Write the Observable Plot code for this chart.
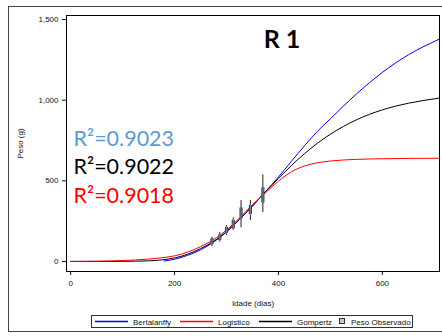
<!DOCTYPE html>
<html>
<head>
<meta charset="utf-8">
<script src="https://cdn.jsdelivr.net/npm/d3@7"></script>
<script src="https://cdn.jsdelivr.net/npm/@observablehq/plot@0.6"></script>
<style>
  html, body { margin: 0; padding: 0; background: #fff; overflow: hidden; }
  #wrap { position: relative; width: 442px; height: 336px; }
  #outer { position: absolute; left: 8px; top: 6px; width: 440px; height: 326px; border: 1.5px solid #444; box-sizing: border-box; pointer-events: none; }
  #legendSvg { position: absolute; left: 91px; top: 315px; }
</style>
</head>
<body>
<div id="wrap"></div>
<script>
// Model curves
const days = [0, 50, 100, 150, 175, 200, 225, 250, 275, 300, 325, 350, 375, 400, 425, 450, 475, 500, 550, 600, 650, 710];
const gompertz = [0, 0, 1, 4, 10, 22, 45, 80, 124, 185, 262, 345, 431, 515, 595, 668, 733, 789, 878, 940, 981, 1013];
const logistico = [1, 2, 6, 15, 23, 35, 58, 92, 135, 195, 270, 352, 426, 498, 556, 592, 612, 623, 633, 637, 639, 640];
const bertDays = [180, 200, 225, 250, 275, 300, 325, 350, 375, 400, 425, 450, 475, 500, 550, 600, 650, 710];
const bertalanffy = [3, 14, 38, 72, 120, 183, 260, 343, 433, 524, 621, 717, 807, 885, 1038, 1172, 1281, 1379];

// Observed weights (box + whiskers)
const obsDay = [272, 287, 300, 313, 328, 346, 370];
const obsMin = [93, 120, 161, 192, 209, 254, 303];
const obsQ1  = [105, 130, 175, 202, 264, 291, 363];
const obsQ3  = [141, 165, 212, 254, 332, 347, 456];
const obsMax = [150, 181, 223, 270, 378, 378, 537];

// Text
const title = "R 1";
const r2Labels = ["R²=0.9023", "R²=0.9022", "R²=0.9018"];
const r2Colors = ["#5b9bd5", "#000000", "#ff0000"];
const xTicks = [0, 200, 400, 600];
const yTicks = [0, 500, 1000, 1500];
const legendLabels = ["Bertalanffy", "Logistico", "Gompertz", "Peso Observado"];
const legendColors = ["#0000ff", "#ff0000", "#000000", "#b8cce4"];

const gomp = days.map((d, i) => ({d, v: gompertz[i]}));
const logi = days.map((d, i) => ({d, v: logistico[i]}));
const bert = bertDays.map((d, i) => ({d, v: bertalanffy[i]}));
const obs = obsDay.map((d, i) => ({d, lo: obsMin[i], q1: obsQ1[i], q3: obsQ3[i], hi: obsMax[i]}));

const r2Dy = [130, 158, 187];

const chart = Plot.plot({
  width: 442,
  height: 336,
  marginLeft: 66,
  marginRight: 3,
  marginTop: 15,
  marginBottom: 65,
  style: {fontFamily: "'Liberation Sans', Arial, sans-serif", background: "transparent", color: "#111"},
  x: {domain: [-8, 710]},
  y: {domain: [-62, 1525]},
  marks: [
    Plot.axisX({ticks: xTicks, tickSize: 4, tickPadding: 5, fontSize: 8, label: "Idade (dias)", labelAnchor: "center", labelArrow: "none", labelOffset: 34}),
    Plot.axisY({ticks: yTicks, tickSize: 4, tickPadding: 4, fontSize: 8, tickFormat: d3.format(","), label: "Peso (g)", labelAnchor: "center", labelArrow: "none", labelOffset: 49}),
    Plot.line(bert, {x: "d", y: "v", stroke: "#0000ff", strokeWidth: 1, curve: "monotone-x"}),
    Plot.line(gomp, {x: "d", y: "v", stroke: "#000000", strokeWidth: 1, curve: "monotone-x"}),
    Plot.line(logi, {x: "d", y: "v", stroke: "#ff0000", strokeWidth: 1, curve: "monotone-x"}),
    Plot.ruleX(obs, {x: "d", y1: "lo", y2: "hi", stroke: "#222", strokeWidth: 1}),
    Plot.ruleX(obs, {x: "d", y1: "q1", y2: "q3", stroke: "#3c4650", strokeWidth: 3.2}),
    Plot.ruleX(obs, {x: "d", y1: "q1", y2: "q3", stroke: "#6f7f8f", strokeWidth: 1.2, insetTop: 1, insetBottom: 1}),
    Plot.frame({stroke: "#000"}),
    Plot.text([title], {frameAnchor: "top", dx: 29, dy: 32, lineAnchor: "bottom", fontSize: 25, fontWeight: "bold", fontFamily: "Lato", fill: "#000"}),
    ...r2Labels.map((t, i) => Plot.text([t], {frameAnchor: "top-left", textAnchor: "start", dx: 7, dy: r2Dy[i], lineAnchor: "bottom", fontSize: 21.5, fontFamily: "Lato", fill: r2Colors[i]}))
  ]
});
chart.style.position = "absolute";
chart.style.left = "0px";
chart.style.top = "0px";

const wrap = document.getElementById("wrap");
wrap.appendChild(chart);

const outer = document.createElement("div");
outer.id = "outer";
wrap.appendChild(outer);

// Legend as a small standalone SVG
const labelWidths = [40, 34, 35, 60];
const lg = d3.create("svg").attr("id", "legendSvg").attr("width", 323).attr("height", 13)
  .style("font-family", "'Liberation Sans', Arial, sans-serif").style("font-size", "8px");
lg.append("rect").attr("x", 0.5).attr("y", 0.5).attr("width", 321).attr("height", 12)
  .attr("fill", "white").attr("stroke", "#333");
let cx = 4;
legendLabels.forEach((label, i) => {
  if (i < 3) {
    lg.append("line").attr("x1", cx).attr("x2", cx + 33).attr("y1", 6.5).attr("y2", 6.5)
      .attr("stroke", legendColors[i]).attr("stroke-width", 1.3);
    cx += 38;
  } else {
    lg.append("rect").attr("x", cx + 0.5).attr("y", 3.5).attr("width", 5).attr("height", 5)
      .attr("fill", legendColors[i]).attr("stroke", "#333");
    cx += 12;
  }
  lg.append("text").attr("x", cx).attr("y", 9.5).attr("fill", "#111").text(label);
  cx += labelWidths[i] + 7;
});
wrap.appendChild(lg.node());
</script>
</body>
</html>
